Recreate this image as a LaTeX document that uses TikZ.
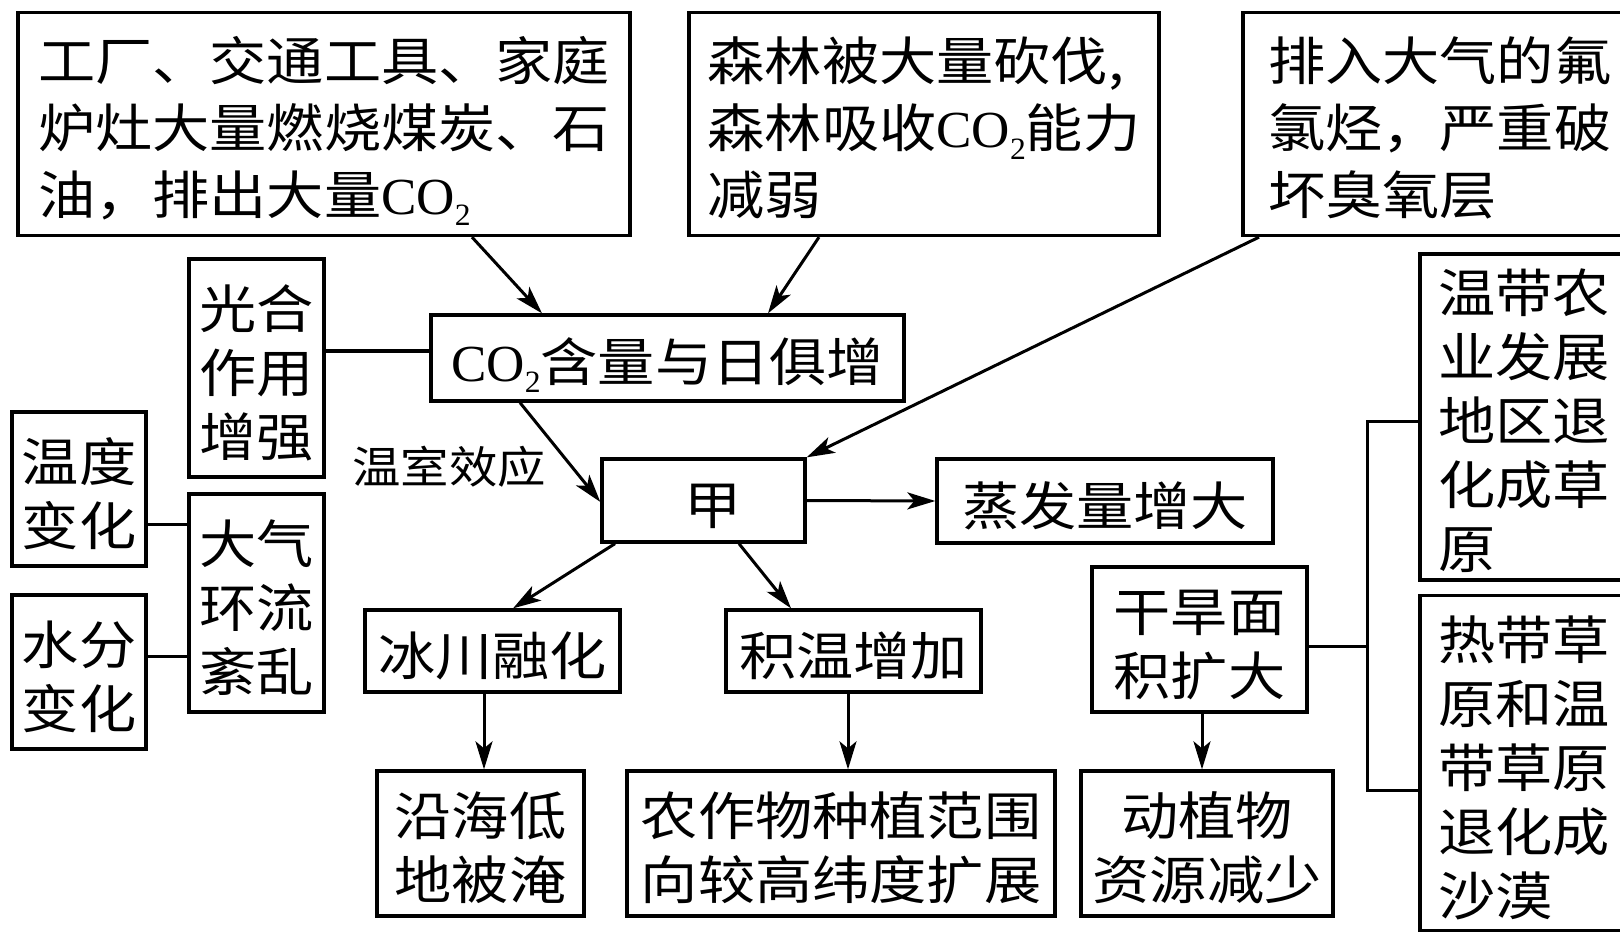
\documentclass[tikz,border=0pt]{standalone}
\usepackage{fontspec}
\usetikzlibrary{arrows.meta}
\newfontfamily\cjk[FakeStretch=1.1]{Noto Sans CJK SC}
\newfontfamily\lat[FakeStretch=1.02]{Liberation Serif}
\newcommand{\COt}{{\lat CO\raisebox{-0.22em}{\fontsize{31}{31}\selectfont 2}}}
\newcommand{\tS}{\rule{0pt}{58pt}}
\newcommand{\bS}{\rule[-10pt]{0pt}{10pt}}
\begin{document}
\begin{tikzpicture}[x=1pt,y=-1pt,
  box/.style={draw, line width=3.3pt, inner sep=0pt, align=center,
    font=\cjk\fontsize{52}{64}\selectfont},
  boxl/.style={box, align=left},
  topbox/.style={boxl, font=\cjk\fontsize{52}{67}\selectfont},
  conn/.style={line width=3pt},
  arr/.style={conn, -{Stealth[length=28pt,width=17pt,inset=7pt]}},
  lbl/.style={inner sep=0pt, font=\cjk\fontsize{44}{50}\selectfont}]
\useasboundingbox (0,0) rectangle (1620,933);
\clip (0,0) rectangle (1620,933);
\fill[white] (0,0) rectangle (1620,933);

% top row
\node[topbox, minimum width=612pt, minimum height=223pt] (A) at (324,124)
  {\tS 工厂、交通工具、家庭\\炉灶大量燃烧煤炭、石\\油，排出大量\COt\bS};
\node[topbox, minimum width=470pt, minimum height=223pt] (B) at (924,124)
  {\tS 森林被大量砍伐,\\森林吸收\COt{}能力\\减弱\bS};
\node[topbox, text width=367pt, inner xsep=25pt, minimum height=223pt] (C) at (1451.5,124)
  {\tS 排入大气的氟\\氯烃，严重破\\坏臭氧层\bS};

% middle
\node[box, minimum width=135pt, minimum height=218pt] (gh) at (256.5,368) {\tS 光合\\作用\\增强\bS};
\node[box, minimum width=473pt, minimum height=86pt] (CO) at (667.5,358) {\tS\COt{}含量与日俱增\bS};
\node[lbl] (wsxy) at (449,467) {温室效应};
\node[box, minimum width=203pt, minimum height=83pt] (jia) at (703.5,500.5) {\tS\hspace{20pt}甲\bS};
\node[box, minimum width=336pt, minimum height=84pt] (zf) at (1105,501) {\tS 蒸发量增大\bS};

% left column
\node[box, minimum width=134pt, minimum height=154pt] (wd) at (79,489) {\tS 温度\\变化\bS};
\node[box, minimum width=134pt, minimum height=154pt] (sf) at (79,672) {\tS 水分\\变化\bS};
\node[box, minimum width=135pt, minimum height=218pt] (dq) at (256.5,603) {\tS 大气\\环流\\紊乱\bS};

% lower
\node[box, minimum width=255pt, minimum height=82pt] (bc) at (492.5,651) {\tS 冰川融化\bS};
\node[box, minimum width=255pt, minimum height=82pt] (jw) at (853.5,651) {\tS 积温增加\bS};
\node[box, minimum width=207pt, minimum height=145pt] (yh) at (480.5,843.5) {\tS 沿海低\\地被淹\bS};
\node[box, minimum width=428pt, minimum height=145pt] (nz) at (841,843.5) {\tS 农作物种植范围\\向较高纬度扩展\bS};
\node[box, minimum width=215pt, minimum height=145pt] (hg) at (1199.5,639.5) {\tS 干旱面\\积扩大\bS};
\node[box, minimum width=252pt, minimum height=145pt] (dz) at (1207,843.5) {\tS 动植物\\资源减少\bS};

% right column
\node[boxl, text width=204pt, inner xsep=18pt, minimum height=326pt] (wn) at (1540,417)
  {\tS 温带农\\业发展\\地区退\\化成草\\原\bS};
\node[boxl, text width=204pt, inner xsep=18pt, minimum height=335pt] (rd) at (1540,763)
  {\tS 热带草\\原和温\\带草原\\退化成\\沙漠\bS};

% connectors
\draw[arr] ([xshift=148pt]A.south) -- ([xshift=-125.5pt]CO.north);
\draw[arr] ([xshift=-105pt]B.south) -- ([xshift=100.5pt]CO.north);
\draw[arr] ([xshift=-192.5pt]C.south) -- (jia.north east);
\draw[arr] ([xshift=-147.5pt]CO.south) -- ([yshift=-1.5pt]jia.west);
\draw[arr] (jia.east) -- (zf.west);
\draw[arr] ([xshift=-88.5pt]jia.south) -- ([xshift=20.5pt]bc.north);
\draw[arr] ([xshift=35.5pt]jia.south) -- ([xshift=-62.5pt]jw.north);
\draw[arr] ([xshift=-8.5pt]bc.south) -- ([xshift=-8.5pt]bc.south |- yh.north);
\draw[arr] ([xshift=-5.5pt]jw.south) -- ([xshift=-5.5pt]jw.south |- nz.north);
\draw[arr] ([xshift=2.5pt]hg.south) -- ([xshift=2.5pt]hg.south |- dz.north);

\draw[conn] ([yshift=7pt]CO.west) -- ([yshift=7pt]CO.west -| gh.east);
\draw[conn] ([yshift=-35pt]wd.east) -- ([yshift=-35pt]wd.east -| dq.west);
\draw[conn] ([yshift=16pt]sf.east) -- ([yshift=16pt]sf.east -| dq.west);

\coordinate (brk) at (1367,646);
\draw[conn] ([yshift=-6.5pt]hg.east) -- (brk);
\draw[conn] ([yshift=-4pt]wn.west) -| (brk) |- ([yshift=-27.5pt]rd.west);
\end{tikzpicture}
\end{document}
